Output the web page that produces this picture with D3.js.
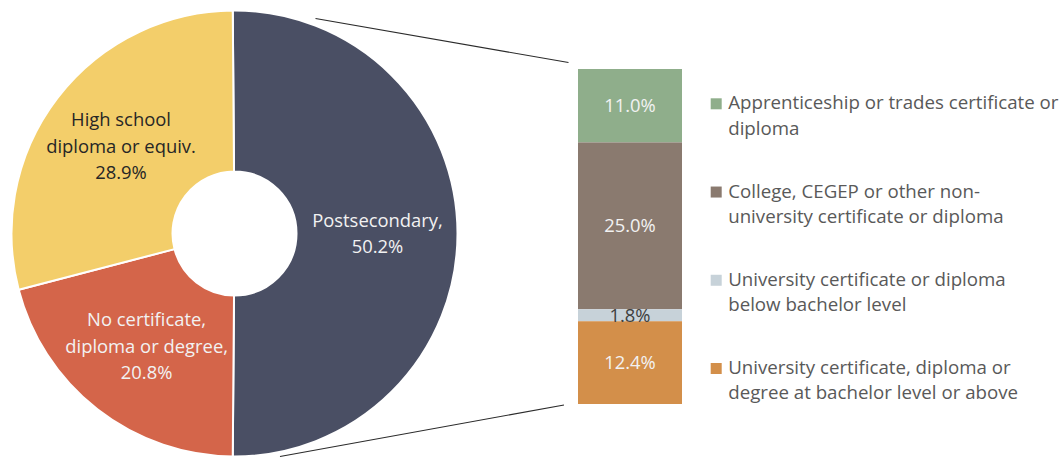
<!DOCTYPE html>
<html>
<head>
<meta charset="utf-8">
<script src="https://cdn.jsdelivr.net/npm/d3@7"></script>
<style>
  html, body { margin: 0; padding: 0; background: #ffffff; }
  svg { display: block; font-family: "Open Sans", "Noto Sans", sans-serif; }
</style>
</head>
<body>
<svg id="chart" width="1060" height="458"></svg>
<script>
// Highest level of education: main split (pie) and breakdown of postsecondary (bar)
const pieCategories = ["Postsecondary", "No certificate, diploma or degree", "High school diploma or equiv."];
const pieValues = [50.2, 20.8, 28.9];
const pieLabelLines = [
  ["Postsecondary,", "50.2%"],
  ["No certificate,", "diploma or degree,", "20.8%"],
  ["High school", "diploma or equiv.", "28.9%"]
];
const pieColors = ["#4a4f64", "#d4654a", "#f3ce6a"];
const pieTextColors = ["#f2f2f2", "#f2f2f2", "#262626"];

const barCategories = [
  "Apprenticeship or trades certificate or diploma",
  "College, CEGEP or other non-university certificate or diploma",
  "University certificate or diploma below bachelor level",
  "University certificate, diploma or degree at bachelor level or above"
];
const barValues = [11.0, 25.0, 1.8, 12.4];
const barLabels = ["11.0%", "25.0%", "1.8%", "12.4%"];
const legendLines = [
  ["Apprenticeship or trades certificate or", "diploma"],
  ["College, CEGEP or other non-", "university certificate or diploma"],
  ["University certificate or diploma", "below bachelor level"],
  ["University certificate, diploma or", "degree at bachelor level or above"]
];
const barColors = ["#8fae8b", "#8a7a6f", "#c7d2d9", "#d38f4a"];
const barTextColors = ["#f2f2f2", "#f2f2f2", "#404040", "#f2f2f2"];

const svg = d3.select("#chart");
const fontSize = 18.4;
const legendFontSize = 18.7;

// ---- donut ----
const cx = 234.5, cy = 233.5, outerR = 223, innerR = 62;
const total = d3.sum(pieValues);
// rotate so the postsecondary slice is centred on the right-hand side
const offset = Math.PI / 2 - (pieValues[0] / total) * Math.PI;
const pie = d3.pie().sort(null).startAngle(offset).endAngle(offset + 2 * Math.PI);
const arcs = pie(pieValues);
const arc = d3.arc().innerRadius(innerR).outerRadius(outerR);
const labelArc = d3.arc().innerRadius(143).outerRadius(143);

const g = svg.append("g").attr("transform", `translate(${cx},${cy})`);
g.selectAll("path.slice")
  .data(arcs)
  .join("path")
  .attr("class", "slice")
  .attr("d", arc)
  .attr("fill", (d, i) => pieColors[i])
  .attr("stroke", "#ffffff")
  .attr("stroke-width", 2)
  .attr("stroke-linejoin", "round");

const lineH = 26.5;
g.selectAll("text.pielabel")
  .data(arcs)
  .join("text")
  .attr("class", "pielabel")
  .attr("transform", d => `translate(${labelArc.centroid(d)})`)
  .attr("text-anchor", "middle")
  .attr("font-size", fontSize)
  .attr("fill", (d, i) => pieTextColors[i])
  .each(function (d, i) {
    const lines = pieLabelLines[i];
    d3.select(this).selectAll("tspan")
      .data(lines)
      .join("tspan")
      .attr("x", 0)
      .attr("y", (t, j) => (j - (lines.length - 1) / 2) * lineH)
      .attr("dy", "0.35em")
      .text(t => t);
  });

// ---- stacked bar ----
const barX = 578, barW = 104, barTop = 69, barBottom = 404;
const y = d3.scaleLinear().domain([0, d3.sum(barValues)]).range([barTop, barBottom]);
const stacked = barValues.map((v, i) => ({ v, i, y0: d3.sum(barValues.slice(0, i)), y1: d3.sum(barValues.slice(0, i + 1)) }));

svg.append("g").selectAll("rect")
  .data(stacked)
  .join("rect")
  .attr("x", barX)
  .attr("width", barW)
  .attr("y", d => y(d.y0))
  .attr("height", d => y(d.y1) - y(d.y0))
  .attr("fill", d => barColors[d.i]);

svg.append("g").selectAll("text")
  .data(stacked)
  .join("text")
  .attr("x", barX + barW / 2)
  .attr("y", d => (y(d.y0) + y(d.y1)) / 2)
  .attr("dy", "0.35em")
  .attr("text-anchor", "middle")
  .attr("font-size", fontSize)
  .attr("fill", d => barTextColors[d.i])
  .text(d => barLabels[d.i]);

// ---- connector lines from the donut to the bar ----
const connectors = [
  [[cx + 81, cy - 215], [barX - 9.5, y(0) - 6.5]],
  [[cx + 45.5, cy + 223], [barX - 14, y(d3.sum(barValues)) + 1]]
];
svg.append("g").selectAll("line")
  .data(connectors)
  .join("line")
  .attr("x1", d => d[0][0]).attr("y1", d => d[0][1])
  .attr("x2", d => d[1][0]).attr("y2", d => d[1][1])
  .attr("stroke", "#2b2b2b")
  .attr("stroke-width", 1.1);

// ---- legend ----
const legendX = 710.7;
const legendY = d3.scalePoint().domain(barCategories).range([109.3, 374]);
const legend = svg.append("g").selectAll("g")
  .data(barCategories)
  .join("g")
  .attr("transform", d => `translate(${legendX},${legendY(d)})`);

legend.append("rect")
  .attr("x", 0).attr("y", -11)
  .attr("width", 11).attr("height", 11)
  .attr("fill", (d, i) => barColors[i]);

legend.append("text")
  .attr("font-size", legendFontSize)
  .attr("fill", "#595959")
  .each(function (d, i) {
    d3.select(this).selectAll("tspan")
      .data(legendLines[i])
      .join("tspan")
      .attr("x", 17.5)
      .attr("y", (t, j) => j * 25.3)
      .text(t => t);
  });
</script>
</body>
</html>
